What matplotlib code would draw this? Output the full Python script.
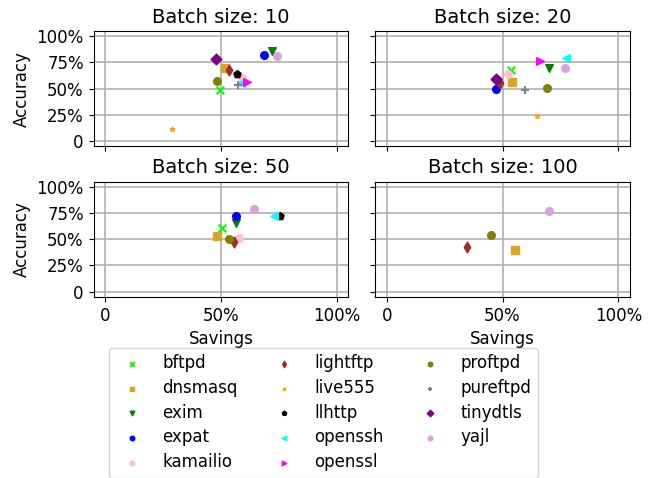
import matplotlib
matplotlib.use("Agg")
import matplotlib.pyplot as plt
import numpy as np

plt.rcParams['font.size'] = 12

nan = np.nan
programs = ['bftpd', 'dnsmasq', 'exim', 'expat', 'kamailio', 'lightftp', 'live555',
            'llhttp', 'openssh', 'openssl', 'proftpd', 'pureftpd', 'tinydtls', 'yajl']
colors = ['lime', 'goldenrod', 'green', 'blue', 'pink', 'brown', 'orange',
          'black', 'cyan', 'magenta', 'olive', 'gray', 'purple', 'plum']
markers = ['x', 's', 'v', 'o', 'o', 'd', '*', 'p', '<', '>', 'o', '+', 'D', 'o']

batch_sizes = [10, 20, 50, 100]

# savings (%) per batch size, same order as programs
savings = {
    10:  [49.6, 51.6, 72.2, 68.7, 59.3, 53.3, 28.7, 57.0, 58.7, 61.4, 48.4, 57.4, 47.7, 74.3],
    20:  [53.7, 54.3, 70.2, 47.3, 52.4, 49.1, 65.0, 47.5, 77.6, 66.2, 69.1, 59.8, 47.4, 76.9],
    50:  [50.6, 48.2, 56.7, 56.7, 57.7, 55.6, nan, 75.6, 72.8, nan, 53.6, nan, nan, 64.4],
    100: [nan, 55.3, nan, nan, nan, 34.8, nan, nan, nan, nan, 45.0, nan, nan, 70.1],
}
# accuracy (%) per batch size
accuracy = {
    10:  [49.0, 69.6, 85.6, 82.4, 60.6, 67.9, 11.5, 63.5, 55.8, 56.4, 57.1, 53.2, 77.9, 81.4],
    20:  [67.5, 56.7, 69.7, 50.0, 64.0, 55.7, 23.6, 59.0, 79.6, 76.8, 50.6, 48.4, 59.2, 69.7],
    50:  [60.9, 53.5, 65.4, 72.4, 51.3, 47.8, nan, 72.1, 72.4, nan, 50.6, nan, nan, 78.8],
    100: [nan, 40.1, nan, nan, nan, 42.6, nan, nan, nan, nan, 53.8, nan, nan, 76.6],
}

fig, axes = plt.subplots(2, 2, figsize=(6.68, 4.78), dpi=100, sharex=True, sharey=True)
fig.subplots_adjust(left=0.14, right=0.943, top=0.935, bottom=0.379, wspace=0.105, hspace=0.31)

handles = []
for ax, bs in zip(axes.flat, batch_sizes):
    for i, name in enumerate(programs):
        x = savings[bs][i] / 100
        y = accuracy[bs][i] / 100
        size = 12 if markers[i] == '*' else 30
        h = ax.scatter([x], [y], c=colors[i], marker=markers[i], s=size, label=name, zorder=3)
        if bs == 10:
            handles.append(h)
    ax.set_title('Batch size: %d' % bs, fontsize=14)
    ax.grid(True, color='#b0b0b0', linewidth=1.2)
    ax.set_xlim(-0.05, 1.05)
    ax.set_ylim(-0.05, 1.05)
    ax.set_xticks([0, 0.5, 1.0])
    ax.set_xticklabels(['0', '50%', '100%'])
    ax.set_yticks([0, 0.25, 0.5, 0.75, 1.0])
    ax.set_yticklabels(['0', '25%', '50%', '75%', '100%'])

axes[0, 0].set_ylabel('Accuracy')
axes[1, 0].set_ylabel('Accuracy')
axes[1, 0].set_xlabel('Savings')
axes[1, 1].set_xlabel('Savings')

fig.legend(handles, programs, loc='upper center', bbox_to_anchor=(0.484, 0.283),
           ncol=3, markerscale=0.6, columnspacing=1.8, labelspacing=0.4,
           borderaxespad=0.3)

plt.savefig('out.png')
